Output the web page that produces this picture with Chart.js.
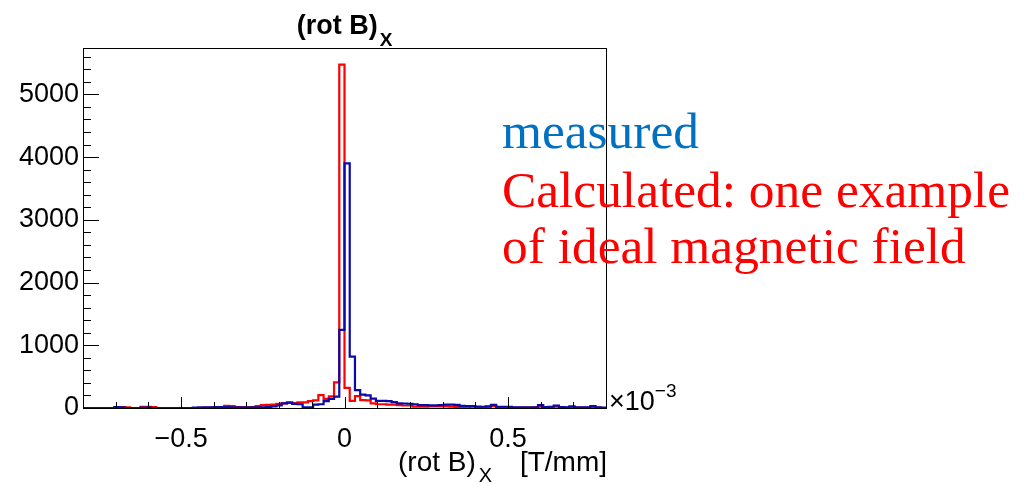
<!DOCTYPE html>
<html>
<head>
<meta charset="utf-8">
<script src="https://cdn.jsdelivr.net/npm/chart.js@4.4.1/dist/chart.umd.min.js"></script>
<style>
  html, body { margin: 0; padding: 0; background: #fff; }
  canvas { display: block; }
</style>
</head>
<body>
<canvas id="c" width="1029" height="483"></canvas>
<script>
// Histogram binning of (rot B)_x in units of 1e-3 T/mm
const binLow = -0.8;
const binWidth = 0.016;

// Bin contents, 100 bins from -0.8 to 0.8
const measuredCounts = [
  0, 0, 0, 0, 0, 0, 15, 12, 0, 0,
  0, 5, 5, 0, 0, 0, 0, 0, 0, 0,
  0, 5, 10, 10, 10, 15, 15, 15, 10, 10,
  10, 10, 10, 10, 10, 15, 25, 40, 75, 90,
  65, 60, 10, 10, 55, 60, 110, 145, 180, 1245,
  3900, 820, 285, 212, 200, 150, 115, 115, 110, 95,
  75, 72, 68, 60, 45, 45, 43, 43, 45, 55,
  55, 50, 35, 32, 30, 22, 20, 22, 50, 20,
  20, 20, 10, 10, 10, 10, 10, 45, 15, 20,
  40, 15, 10, 25, 10, 10, 10, 30, 10, 5
];
const calculatedCounts = [
  0, 0, 0, 0, 0, 0, 10, 15, 10, 0,
  0, 20, 20, 15, 0, 0, 0, 0, 0, 0,
  0, 0, 0, 5, 5, 10, 15, 35, 30, 15,
  10, 10, 15, 30, 45, 50, 55, 65, 75, 80,
  80, 90, 90, 110, 120, 205, 145, 185, 410, 5475,
  320, 115, 190, 125, 120, 75, 60, 60, 55, 55,
  45, 40, 40, 22, 20, 20, 25, 25, 25, 25,
  20, 15, 15, 10, 20, 10, 10, 25, 30, 10,
  5, 5, 5, 5, 5, 5, 10, 20, 5, 5,
  20, 5, 5, 15, 5, 5, 5, 10, 5, 0
];

// Axis ranges and labelled ticks
const xRange = [-0.8, 0.8];
const yRange = [0, 5740];
const xTickValues = [-0.5, 0, 0.5];
const yTickValues = [0, 1000, 2000, 3000, 4000, 5000];

// Step outline: one point on each bin's lower edge, plus the closing upper edge
function outline(counts) {
  const pts = counts.map((v, i) => ({ x: binLow + i * binWidth, y: v }));
  pts.push({ x: binLow + counts.length * binWidth, y: counts[counts.length - 1] });
  return pts;
}

const SANS = '"Liberation Sans", Arial, Helvetica, sans-serif';
const SERIF = '"Liberation Serif", "Times New Roman", serif';

function fmtX(v) {
  const s = String(Math.abs(v));
  return v < 0 ? '\u2212' + s : s;
}

const rootStyle = {
  id: 'rootStyle',
  afterDatasetsDraw(chart) {
    const { ctx, chartArea: a, scales: { x, y } } = chart;
    ctx.save();
    ctx.strokeStyle = '#000';
    ctx.lineWidth = 1;
    // inward tick marks
    ctx.beginPath();
    for (let v = 0; v <= yRange[1] + 1e-6; v += 200) {
      const py = Math.round(y.getPixelForValue(v)) + 0.5;
      const len = (v % 1000 === 0) ? 16 : 8;
      ctx.moveTo(a.left, py);
      ctx.lineTo(a.left + len, py);
    }
    for (let k = -7; k <= 7; k++) {
      const v = k / 10;
      const px = Math.round(x.getPixelForValue(v)) + 0.5;
      const len = (k % 5 === 0) ? 11 : 6;
      ctx.moveTo(px, a.bottom);
      ctx.lineTo(px, a.bottom - len);
    }
    ctx.stroke();
    // frame
    ctx.strokeRect(Math.round(a.left) + 0.5, Math.round(a.top) + 0.5,
                   Math.round(a.right - a.left), Math.round(a.bottom - a.top));
    ctx.restore();
  },
  afterDraw(chart) {
    const { ctx, chartArea: a } = chart;
    ctx.save();
    ctx.fillStyle = '#000';
    ctx.textBaseline = 'alphabetic';

    // histogram title with subscript
    ctx.font = 'bold 27px ' + SANS;
    const t1 = '(rot B)';
    const w1 = ctx.measureText(t1).width;
    ctx.font = 'bold 19px ' + SANS;
    const w2 = ctx.measureText('X').width;
    const cx = (a.left + a.right) / 2;
    const tx = cx - (w1 + 2 + w2) / 2;
    ctx.font = 'bold 27px ' + SANS;
    ctx.fillText(t1, tx, 34);
    ctx.font = 'bold 19px ' + SANS;
    ctx.fillText('X', tx + w1 + 2, 46);

    // axis exponent
    ctx.font = '27px ' + SANS;
    ctx.fillText('\u00d710', a.right + 3, 410);
    const wE = ctx.measureText('\u00d710').width;
    ctx.font = '19px ' + SANS;
    ctx.fillText('\u22123', a.right + 3 + wE, 397);

    // x-axis title, right aligned to the frame
    ctx.font = '28px ' + SANS;
    ctx.textAlign = 'right';
    ctx.fillText('[T/mm]', a.right + 1, 471);
    ctx.textAlign = 'left';
    ctx.fillText('(rot B)', 398, 471);
    const wr = ctx.measureText('(rot B)').width;
    ctx.font = '20px ' + SANS;
    ctx.fillText('X', 398 + wr + 3, 482);

    // annotation
    const lines = [
      ['measured', '#0070c0', 148],
      ['Calculated: one example', '#ff0000', 207],
      ['of ideal magnetic field', '#ff0000', 263]
    ];
    ctx.font = '50px ' + SERIF;
    const wide = ctx.measureText(lines[1][0]).width;
    const size = 50 * 508 / wide;
    ctx.font = size.toFixed(1) + 'px ' + SERIF;
    for (const [txt, col, by] of lines) {
      ctx.fillStyle = col;
      ctx.fillText(txt, 502, by);
    }
    ctx.restore();
  }
};

new Chart(document.getElementById('c'), {
  type: 'line',
  data: {
    datasets: [
      {
        label: 'measured',
        data: outline(measuredCounts),
        borderColor: '#0a0aa6',
        borderWidth: 2.2,
        stepped: 'before',
        pointRadius: 0,
        fill: false,
        order: 0
      },
      {
        label: 'Calculated',
        data: outline(calculatedCounts),
        borderColor: '#ff0000',
        borderWidth: 2.2,
        stepped: 'before',
        pointRadius: 0,
        fill: false,
        order: 1
      }
    ]
  },
  options: {
    responsive: false,
    animation: false,
    events: [],
    layout: { padding: { top: 48, right: 423, left: 0, bottom: 0 } },
    plugins: { legend: { display: false }, title: { display: false }, tooltip: { enabled: false } },
    scales: {
      x: {
        type: 'linear',
        min: xRange[0],
        max: xRange[1],
        afterFit(s) { s.height = 75; },
        afterBuildTicks(s) { s.ticks = xTickValues.map(v => ({ value: v })); },
        grid: { display: false, drawTicks: false },
        border: { display: false },
        ticks: {
          padding: 15,
          maxRotation: 0,
          color: '#000',
          font: { family: SANS, size: 27 },
          callback: v => fmtX(v)
        }
      },
      y: {
        type: 'linear',
        min: yRange[0],
        max: yRange[1],
        afterFit(s) { s.width = 83; },
        afterBuildTicks(s) { s.ticks = yTickValues.map(v => ({ value: v })); },
        grid: { display: false, drawTicks: false },
        border: { display: false },
        ticks: {
          padding: 4,
          color: '#000',
          font: { family: SANS, size: 27 },
          callback: v => String(v)
        }
      }
    }
  },
  plugins: [rootStyle]
});
</script>
</body>
</html>
